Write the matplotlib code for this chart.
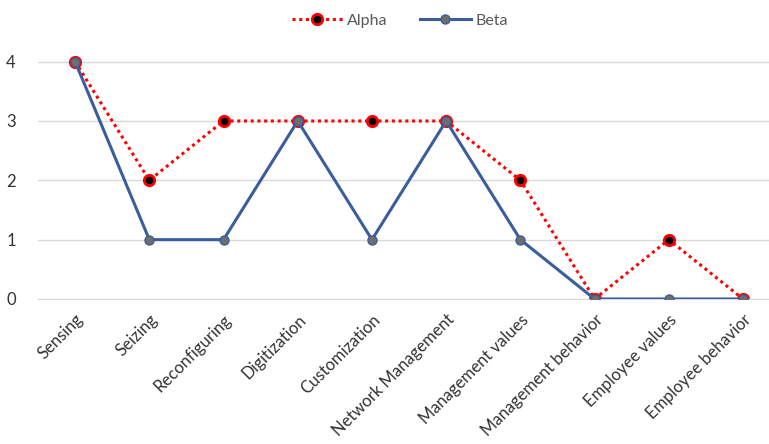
import numpy as np
import matplotlib
matplotlib.use('Agg')
import matplotlib.pyplot as plt

plt.rcParams['font.family'] = ['Lato', 'DejaVu Sans']

# capability categories and scores
categories = ["Sensing", "Seizing", "Reconfiguring", "Digitization", "Customization",
              "Network Management", "Management values", "Management behavior",
              "Employee values", "Employee behavior"]
alpha = [4, 2, 3, 3, 3, 3, 2, 0, 1, 0]
beta = [4, 1, 1, 3, 1, 3, 1, 0, 0, 0]

x = np.arange(len(categories))

fig = plt.figure(figsize=(7.69, 4.44), dpi=100)
ax = fig.add_axes([0.0494, 0.3266, 0.9506, 0.6014])

ax.plot(x, beta, color='#3A5E9C', lw=2.2, marker='o', ms=6.5,
        mfc='#6E6E6E', mec='#3A5E9C', mew=1.0, label='Beta', zorder=3)
ax.plot(x, alpha, color='#FF0000', lw=2.2, ls=(0, (1, 1.2)), marker='o', ms=7.5,
        mfc='black', mec='#FF0000', mew=2.0, label='Alpha', zorder=2)

ax.set_xlim(-0.5, 9.35)
ax.set_ylim(0, 4.5)
ax.set_yticks([0, 1, 2, 3, 4])
ax.yaxis.grid(True, color='#D9D9D9', lw=1)
ax.set_axisbelow(True)
for s in ['top', 'right', 'left']:
    ax.spines[s].set_visible(False)
ax.spines['bottom'].set_color('#D9D9D9')
ax.tick_params(axis='both', length=0, colors='#333333', labelsize=12)
ax.tick_params(axis='y', pad=16)
ax.set_xticks(x)
ax.set_xticklabels(categories, rotation=45, ha='right', rotation_mode='anchor')
ax.tick_params(axis='x', pad=9)

h, l = ax.get_legend_handles_labels()
fig.legend(h[::-1], l[::-1], loc='center', bbox_to_anchor=(0.52, 0.953), ncol=2,
           frameon=False, fontsize=11.5, labelcolor='#595959', handlelength=3.2,
           handletextpad=0.3, columnspacing=2.0)

fig.savefig('out.png', dpi=100)
